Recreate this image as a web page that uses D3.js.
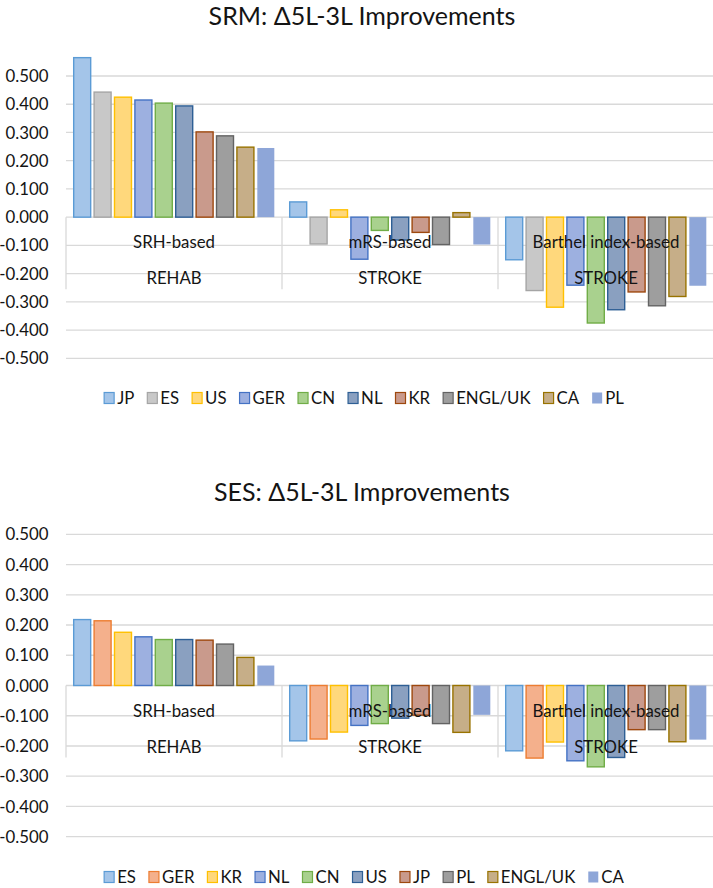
<!DOCTYPE html>
<html>
<head>
<meta charset="utf-8">
<script src="https://cdn.jsdelivr.net/npm/d3@7"></script>
<style>
  body { margin: 0; background: #fff; }
  svg { display: block; font-family: Lato, "Open Sans", sans-serif; }
</style>
</head>
<body>
<div id="canvas"></div>
<script>
// categories
const groups = ["SRH-based", "mRS-based", "Barthel index-based"];
const groupParents = ["REHAB", "STROKE", "STROKE"];
const tickValues = [0.5, 0.4, 0.3, 0.2, 0.1, 0, -0.1, -0.2, -0.3, -0.4, -0.5];

// SRM chart
const srmTitle = "SRM: \u03945L-3L Improvements";
const srmCountries = ["JP", "ES", "US", "GER", "CN", "NL", "KR", "ENGL/UK", "CA", "PL"];
const srmSRH = [0.565, 0.443, 0.425, 0.415, 0.404, 0.394, 0.302, 0.288, 0.248, 0.245];
const srmMRS = [0.054, -0.095, 0.026, -0.149, -0.047, -0.081, -0.054, -0.097, 0.016, -0.097];
const srmBarthel = [-0.151, -0.260, -0.319, -0.241, -0.375, -0.328, -0.265, -0.314, -0.281, -0.243];

// SES chart
const sesTitle = "SES: \u03945L-3L Improvements";
const sesCountries = ["ES", "GER", "KR", "NL", "CN", "US", "JP", "PL", "ENGL/UK", "CA"];
const sesSRH = [0.218, 0.214, 0.176, 0.161, 0.152, 0.152, 0.150, 0.137, 0.093, 0.066];
const sesMRS = [-0.183, -0.177, -0.154, -0.132, -0.126, -0.108, -0.098, -0.126, -0.155, -0.097];
const sesBarthel = [-0.216, -0.240, -0.187, -0.249, -0.269, -0.238, -0.146, -0.146, -0.186, -0.179];

// series styles (fill, border)
const palette = {
    blue: ["#a4c5e9", "#5b9bd5"],
    gray: ["#c8c8c8", "#a5a5a5"],
    gold: ["#ffd87c", "#ffc000"],
    blue2: ["#9db0e0", "#4472c4"],
    green: ["#a9d18e", "#70ad47"],
    steel: ["#8aa0c0", "#2e5f95"],
    brown: ["#c99a8c", "#9e480e"],
    dgray: ["#9e9e9e", "#636363"],
    tan: ["#c6ae88", "#997300"],
    peri: ["#8ea6d8", null],
    orange: ["#f4b08c", "#ed7d31"]
};
const srmStyles = ["blue", "gray", "gold", "blue2", "green", "steel", "brown", "dgray", "tan", "peri"];
const sesStyles = ["blue", "orange", "gold", "blue2", "green", "steel", "brown", "dgray", "tan", "peri"];

const width = 713, height = 888;
const svg = d3.select('#canvas').append('svg')
    .attr('width', width)
    .attr('height', height);

const fontSize = 16.8;
const textColor = '#141414';

function drawChart(opts) {
    const g = svg.append('g');

    const x0 = d3.scaleBand().domain(groups).range([66, 714]);
    const x1 = d3.scaleBand()
        .domain(opts.countries)
        .range([0, x0.bandwidth()])
        .paddingInner(0.167)
        .paddingOuter(0.377);
    const y = d3.scaleLinear().domain([-0.5, 0.5]).range([opts.bottom, opts.top]);
    const y0 = y(0);

    // title
    g.append('text')
        .attr('x', 362)
        .attr('y', opts.titleY)
        .attr('text-anchor', 'middle')
        .style('font-size', '25px')
        .style('fill', textColor)
        .text(opts.title);

    // gridlines
    g.append('g').selectAll('line')
        .data(tickValues)
        .enter().append('line')
        .attr('x1', 66).attr('x2', 713)
        .attr('y1', d => y(d)).attr('y2', d => y(d))
        .style('stroke', '#d9d9d9')
        .style('stroke-width', 1.3);

    // tick labels
    g.append('g').selectAll('text')
        .data(tickValues)
        .enter().append('text')
        .attr('x', 48.5)
        .attr('y', d => y(d))
        .attr('dy', '0.36em')
        .attr('text-anchor', 'end')
        .style('font-size', fontSize + 'px')
        .style('fill', textColor)
        .text(d => d3.format('.3f')(d).replace('\u2212', '-'));

    // category separators
    const seps = groups.map(d => x0(d)).concat([x0(groups[2]) + x0.bandwidth()]);
    g.append('g').selectAll('line')
        .data(seps)
        .enter().append('line')
        .attr('x1', d => d).attr('x2', d => d)
        .attr('y1', y0).attr('y2', y0 + 72)
        .style('stroke', '#d9d9d9')
        .style('stroke-width', 1.3);

    // bars
    const rows = [];
    groups.forEach(function (grp, gi) {
        opts.series[gi].forEach(function (v, i) {
            rows.push({ group: grp, country: opts.countries[i], value: v, style: palette[opts.styles[i]] });
        });
    });

    g.append('g').selectAll('rect')
        .data(rows)
        .enter().append('rect')
        .attr('x', d => x0(d.group) + x1(d.country))
        .attr('width', x1.bandwidth())
        .attr('y', d => Math.min(y(d.value), y0))
        .attr('height', d => Math.abs(y(d.value) - y0))
        .style('fill', d => d.style[0])
        .style('stroke', d => d.style[1] || 'none')
        .style('stroke-width', 1.4);

    // category labels
    g.append('g').selectAll('text')
        .data(groups)
        .enter().append('text')
        .attr('x', d => x0(d) + x0.bandwidth() / 2)
        .attr('y', y0 + 25)
        .attr('dy', '0.36em')
        .attr('text-anchor', 'middle')
        .style('font-size', fontSize + 'px')
        .style('fill', textColor)
        .text(d => d);

    g.append('g').selectAll('text')
        .data(groupParents)
        .enter().append('text')
        .attr('x', (d, i) => x0(groups[i]) + x0.bandwidth() / 2)
        .attr('y', y0 + 61)
        .attr('dy', '0.36em')
        .attr('text-anchor', 'middle')
        .style('font-size', fontSize + 'px')
        .style('fill', textColor)
        .text(d => d);

    // legend
    const legend = g.append('g');
    const items = legend.selectAll('g')
        .data(opts.countries)
        .enter().append('g');
    items.append('rect')
        .attr('width', 10).attr('height', 11)
        .attr('y', opts.legendY - 5.5)
        .style('fill', (d, i) => palette[opts.styles[i]][0])
        .style('stroke', (d, i) => palette[opts.styles[i]][1] || 'none')
        .style('stroke-width', 1.2);
    items.append('text')
        .attr('x', 13)
        .attr('y', opts.legendY)
        .attr('dy', '0.36em')
        .style('font-size', fontSize + 'px')
        .style('fill', textColor)
        .text(d => d);

    const gap = 13;
    let cursor = 0;
    const offsets = [];
    items.each(function () {
        offsets.push(cursor);
        const w = d3.select(this).select('text').node().getComputedTextLength();
        cursor += 13 + w + gap;
    });
    const total = cursor - gap;
    const start = 364 - total / 2;
    items.attr('transform', (d, i) => 'translate(' + (start + offsets[i]) + ',0)');
}

drawChart({
    title: srmTitle,
    titleY: 25,
    top: 76,
    bottom: 358.3,
    legendY: 398,
    countries: srmCountries,
    series: [srmSRH, srmMRS, srmBarthel],
    styles: srmStyles
});

drawChart({
    title: sesTitle,
    titleY: 501,
    top: 534.3,
    bottom: 836.7,
    legendY: 877,
    countries: sesCountries,
    series: [sesSRH, sesMRS, sesBarthel],
    styles: sesStyles
});
</script>
</body>
</html>
